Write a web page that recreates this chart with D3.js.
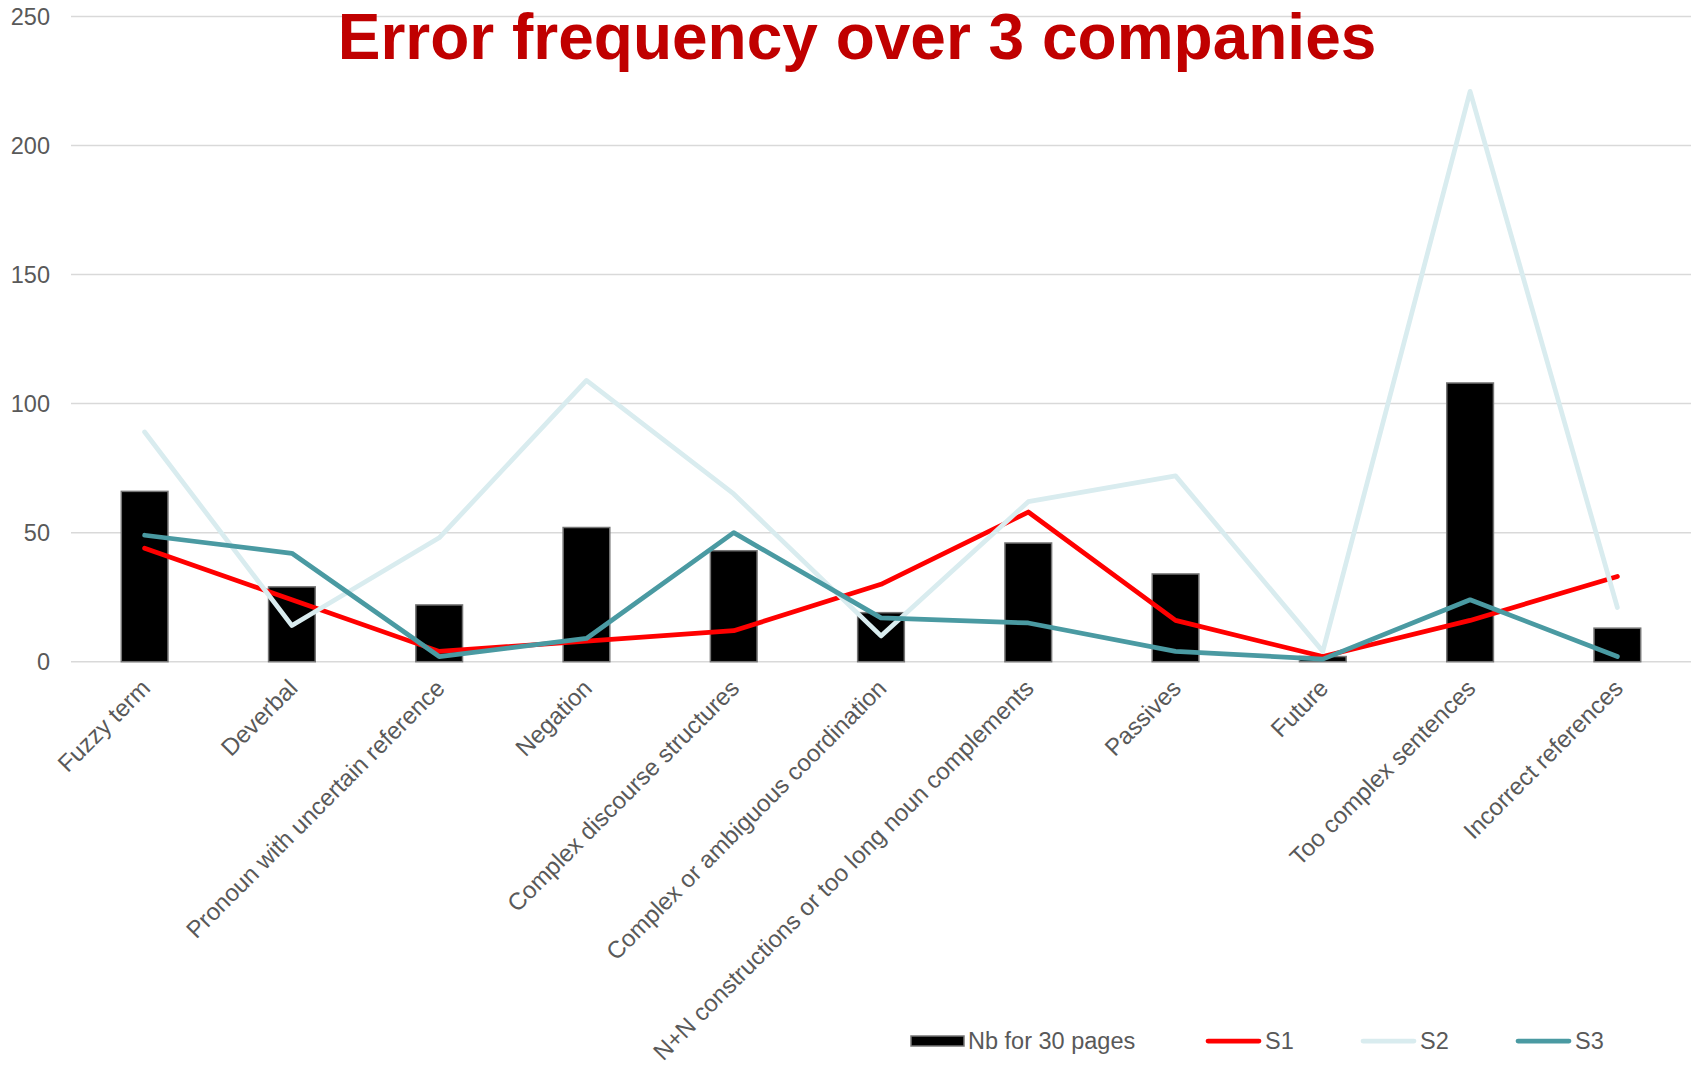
<!DOCTYPE html>
<html>
<head>
<meta charset="utf-8">
<script src="https://cdn.jsdelivr.net/npm/d3@7"></script>
<style>
  html, body { margin: 0; padding: 0; background: #fff; }
  svg { display: block; font-family: "Liberation Sans", Arial, sans-serif; }
</style>
</head>
<body>
<div id="chart"></div>
<script>
// categories (x axis)
const categories = [
  "Fuzzy term",
  "Deverbal",
  "Pronoun with uncertain reference",
  "Negation",
  "Complex discourse structures",
  "Complex or ambiguous coordination",
  "N+N constructions or too long noun complements",
  "Passives",
  "Future",
  "Too complex sentences",
  "Incorrect references"
];

// bar series
const nbFor30Pages = [66, 29, 22, 52, 43, 19, 46, 34, 2, 108, 13];

// line series
const s1 = [44, 24, 4, 8, 12, 30, 58, 16, 2, 16, 33];
const s2 = [89, 14, 48, 109, 65, 10, 62, 72, 4, 221, 21];
const s3 = [49, 42, 2, 9, 50, 17, 15, 4, 1, 24, 2];

const yTicks = [0, 50, 100, 150, 200, 250];

const lineSeries = [
  { name: "S1", values: s1, color: "#FF0000" },
  { name: "S2", values: s2, color: "#D9ECEF" },
  { name: "S3", values: s3, color: "#4A9AA2" }
];

const W = 1700, H = 1067;
const plot = { left: 71, right: 1691, top: 16.5, bottom: 661.7 };
const textColor = "#595959";

const svg = d3.select("#chart").append("svg")
  .attr("width", W)
  .attr("height", H)
  .attr("viewBox", [0, 0, W, H]);

const x = d3.scaleBand()
  .domain(categories)
  .range([plot.left, plot.right])
  .paddingInner(0.683)
  .paddingOuter(0.3415);

const xc = d3.scalePoint()
  .domain(categories)
  .range([plot.left, plot.right])
  .padding(0.5);

const y = d3.scaleLinear()
  .domain([0, 250])
  .range([plot.bottom, plot.top]);

// gridlines
svg.append("g")
  .selectAll("line")
  .data(yTicks)
  .join("line")
  .attr("x1", plot.left)
  .attr("x2", plot.right)
  .attr("y1", d => y(d))
  .attr("y2", d => y(d))
  .attr("stroke", "#D9D9D9")
  .attr("stroke-width", 1.5);

// y axis labels
const yAxis = svg.append("g")
  .attr("transform", `translate(${plot.left - 21},0)`)
  .call(d3.axisLeft(y).tickValues(yTicks).tickSize(0).tickPadding(0));
yAxis.select(".domain").remove();
yAxis.selectAll("text")
  .attr("fill", textColor)
  .style("font-size", "23.5px")
  .style("font-family", "Liberation Sans, Arial, sans-serif");

// title (drawn over the top gridline like the original)
svg.append("text")
  .attr("x", 857)
  .attr("y", 59)
  .attr("text-anchor", "middle")
  .attr("fill", "#C00000")
  .attr("font-weight", "bold")
  .attr("font-size", 64)
  .text("Error frequency over 3 companies");

// bars
svg.append("g")
  .selectAll("rect")
  .data(nbFor30Pages)
  .join("rect")
  .attr("x", (d, i) => x(categories[i]))
  .attr("y", d => y(d))
  .attr("width", x.bandwidth())
  .attr("height", d => y(0) - y(d))
  .attr("fill", "#000")
  .attr("stroke", "#767676")
  .attr("stroke-width", 1.5);

// lines
const line = d3.line()
  .x((d, i) => xc(categories[i]))
  .y(d => y(d));

svg.append("g")
  .selectAll("path")
  .data(lineSeries)
  .join("path")
  .attr("d", d => line(d.values))
  .attr("fill", "none")
  .attr("stroke", d => d.color)
  .attr("stroke-width", 4.75)
  .attr("stroke-linejoin", "round")
  .attr("stroke-linecap", "round");

// x axis labels, rotated -45
svg.append("g")
  .selectAll("text")
  .data(categories)
  .join("text")
  .attr("transform", d => `translate(${xc(d) + 7},${plot.bottom + 28}) rotate(-45)`)
  .attr("text-anchor", "end")
  .attr("fill", textColor)
  .attr("font-size", 24)
  .text(d => d);

// legend
const legendY = 1041;
const legend = svg.append("g");

legend.append("rect")
  .attr("x", 911)
  .attr("y", legendY - 5)
  .attr("width", 53)
  .attr("height", 10)
  .attr("fill", "#000")
  .attr("stroke", "#767676")
  .attr("stroke-width", 1.5);
legend.append("text")
  .attr("x", 968)
  .attr("y", legendY)
  .attr("dy", "0.35em")
  .attr("fill", textColor)
  .attr("font-size", 23.5)
  .text("Nb for 30 pages");

const legendX = [1206, 1361, 1516];
lineSeries.forEach((s, i) => {
  legend.append("line")
    .attr("x1", legendX[i] + 2)
    .attr("x2", legendX[i] + 53)
    .attr("y1", legendY)
    .attr("y2", legendY)
    .attr("stroke", s.color)
    .attr("stroke-width", 4.75)
    .attr("stroke-linecap", "round");
  legend.append("text")
    .attr("x", legendX[i] + 59)
    .attr("y", legendY)
    .attr("dy", "0.35em")
    .attr("fill", textColor)
    .attr("font-size", 23.5)
    .text(s.name);
});
</script>
</body>
</html>
